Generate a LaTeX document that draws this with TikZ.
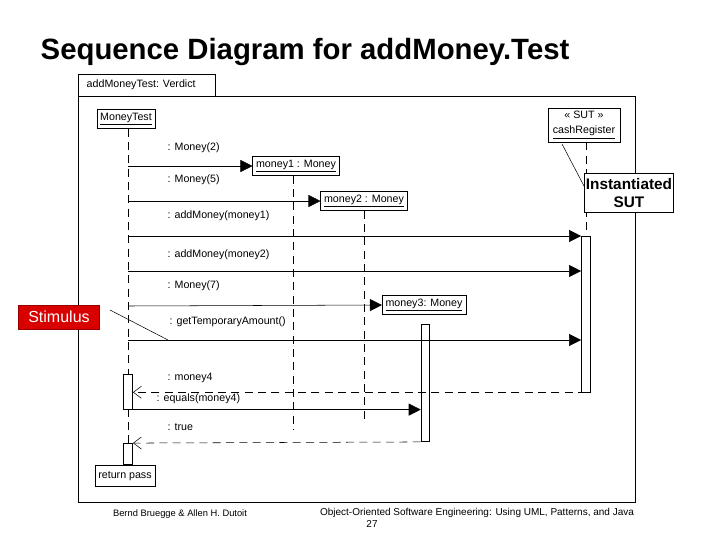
\documentclass[tikz,border=0pt]{standalone}
\usepackage{fontspec}
\setmainfont{Liberation Sans}
\usetikzlibrary{arrows.meta}
\begin{document}
\begin{tikzpicture}[x=0.75pt, y=-0.75pt,
  obj/.style={draw, inner sep=2.5pt, font=\fontsize{8}{9.5}\selectfont},
  msg/.style={font=\fontsize{8}{9.5}\selectfont, anchor=west},
  life/.style={dashed, dash pattern=on 6pt off 4pt},
  call/.style={-{Triangle[length=9pt,width=9pt]}},
  reply/.style={dashed, dash pattern=on 6pt off 4pt, -{Straight Barb[length=6pt,width=9pt]}},
  act/.style={draw, fill=white, inner sep=0pt}]
  \useasboundingbox (0,0) rectangle (720,540);
  \node[font=\bfseries\fontsize{22}{26}\selectfont, anchor=west] (title) at (36,52) {Sequence Diagram for addMoney.Test};
  % frame
  \draw (78,74) rectangle (215,96);
  \node[msg] (frame) at (82,85) {addMoneyTest: Verdict};
  \draw (78,96) rectangle (635,502);
  % objects
  \node[obj, minimum height=14pt] (mt) at (126,119) {\underline{MoneyTest}};
  \node[obj, align=center, minimum width=54pt] (cr) at (584,125) {<< SUT >>\\[2pt]\underline{cashRegister}};
  \node[obj, minimum height=13pt] (m1) at (296,166) {\underline{money1 : Money}};
  \node[obj, minimum height=13pt] (m2) at (364,201) {\underline{money2 : Money}};
  \node[obj, minimum height=13pt] (m3) at (424,305) {\underline{money3: Money}};
  % lifelines
  \coordinate (mtend) at (128,465);
  \coordinate (m1end) at (293,430);
  \coordinate (m2end) at (364,420);
  \coordinate (crend) at (586,236);
  \draw[life] (mt.south -| mtend) -- (mtend);
  \draw[life] (m1.south -| m1end) -- (m1end);
  \draw[life] (m2.south) -- (m2end);
  \draw[life] (cr.south -| crend) -- (crend);
  % activations
  \node[act, minimum width=7pt, minimum height=117pt] (acr) at (586,314) {};
  \node[act, minimum width=6pt, minimum height=88pt] (am3) at (425,383) {};
  \node[act, minimum width=7pt, minimum height=26pt] (amt1) at (128,392) {};
  \node[act, minimum width=7pt, minimum height=16pt] (amt2) at (128,454) {};
  \node[obj, minimum height=16pt] (ret) at (125,476) {return pass};
  % messages
  \node[msg] (l1) at (163,148) {: Money(2)};
  \draw[call] (128,166) -- (m1.west);
  \node[msg] (l2) at (163,180) {: Money(5)};
  \draw[call] (128,201) -- (m2.west);
  \node[msg] (l3) at (163,216) {: addMoney(money1)};
  \draw[call] (128,236) -- (acr.west |- 0,236);
  \node[msg] (l4) at (163,255) {: addMoney(money2)};
  \draw[call] (128,271) -- (acr.west |- 0,271);
  \node[msg] (l5) at (163,286) {: Money(7)};
  \draw[call] (128,306) -- (m3.west);
  \node[msg] (l6) at (165,322) {: getTemporaryAmount()};
  \draw[call] (128,340) -- (acr.west |- 0,340);
  \node[msg] (l7) at (163,378) {: money4};
  \draw[reply] (acr.south) -- (amt1.east |- acr.south);
  \node[msg] (l8) at (152,399) {: equals(money4)};
  \draw[call] (amt1.south east) -- (am3.west |- amt1.south);
  \node[msg] (l9) at (163,427) {: true};
  \draw[reply] (am3.south west) -- (amt2.north east);
  % notes
  \node[fill=red!85!black, draw=red!60!black, text=white, minimum width=61pt, minimum height=18pt, font=\fontsize{12}{14}\selectfont] (stim) at (59,317) {Stimulus};
  \draw (110,310) -- (168,340);
  \node[draw, fill=white, align=center, minimum width=62pt, inner xsep=1pt, font=\bfseries\fontsize{11.5}{14}\selectfont] (sut) at (629,193) {Instantiated\\SUT};
  \draw (562,144) -- (584,186);
  % footer
  \node[font=\fontsize{7}{8}\selectfont] (f1) at (180,514) {Bernd Bruegge \& Allen H. Dutoit};
  \node[font=\fontsize{7.5}{8.5}\selectfont] (f2) at (477,513) {Object-Oriented Software Engineering: Using UML, Patterns, and Java};
  \node[font=\fontsize{7.5}{8.5}\selectfont] (page) at (372,524) {27};
\end{tikzpicture}
\end{document}
